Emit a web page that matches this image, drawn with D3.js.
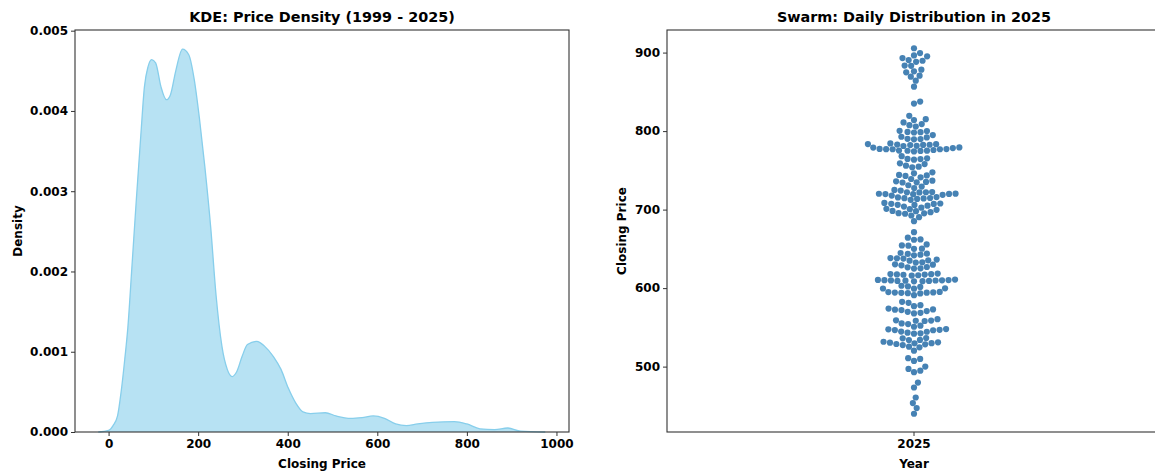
<!DOCTYPE html>
<html><head><meta charset="utf-8">
<script src="https://cdn.jsdelivr.net/npm/d3@7"></script>
<style>
html,body{margin:0;padding:0;background:#fff;}
text{font-family:"DejaVu Sans",sans-serif;font-weight:bold;fill:#000;}
</style></head>
<body>
<svg id="chart" width="1155" height="472"></svg>
<script>
// ---------- DATA ----------
const leftTitle = "KDE: Price Density (1999 - 2025)";
const rightTitle = "Swarm: Daily Distribution in 2025";
const kdeXTicks = [0, 200, 400, 600, 800, 1000];
const kdeYTicks = [0, 0.001, 0.002, 0.003, 0.004, 0.005];
const swarmYTicks = [500, 600, 700, 800, 900];
const swarmCategory = ["2025"];

// KDE curve (closing price, density)
const kdePrice = [-23, 0, 10, 20, 28, 36, 43, 52, 62, 72, 80, 88, 96, 105, 117, 129, 138, 150, 165, 179, 191, 203, 215, 228, 240, 253, 265, 276, 286, 298, 310, 331, 348, 368, 385, 401, 418, 434, 451, 484, 508, 541, 566, 591, 616, 641, 665, 690, 723, 772, 800, 829, 862, 891, 920, 975];
const kdeDensity = [0, 0.00002, 0.00008, 0.0002, 0.0005, 0.0009, 0.0013, 0.00205, 0.0029, 0.0037, 0.0043, 0.00455, 0.00464, 0.0046, 0.0043, 0.00414, 0.0042, 0.0045, 0.00477, 0.0047, 0.0044, 0.0039, 0.0033, 0.00255, 0.0017, 0.00107, 0.00078, 0.00069, 0.00075, 0.00094, 0.00109, 0.00113, 0.00107, 0.00094, 0.00078, 0.00055, 0.00036, 0.00025, 0.00023, 0.00024, 0.0002, 0.00017, 0.00018, 0.0002, 0.00017, 0.0001, 0.00008, 0.0001, 0.00012, 0.00013, 0.0001, 0.00004, 0.00003, 0.00005, 0.00001, 0];

// Daily closing prices in 2025
const prices2025 = [
 905.5, 899.4, 896.4, 895.2, 893.0, 890.5, 889.6, 888.3, 883.2, 883.5, 878.2, 876.1, 874.9, 870.6, 869.3, 864.2, 856.6, 837.6, 835.0,
 819.4, 814.0, 815.2, 811.0, 807.6, 805.8, 809.0, 798.2, 800.4, 799.0, 798.6, 800.0, 792.8, 789.8, 789.5, 791.9, 794.9, 790.2,
 784.3, 779.2, 778.4, 777.1, 782.6, 782.4, 781.3, 781.0, 782.2, 783.5, 783.3, 776.9, 779.0, 782.8,
 775.0, 774.1, 775.2, 777.3, 776.9, 774.8, 775.1, 775.9, 777.0,
 764.4, 765.3, 763.6, 764.6, 768.0,
 758.0, 754.7, 756.0, 753.8, 758.9,
 744.2, 746.2, 741.1, 742.9, 747.5, 743.5, 739.0,
 736.9, 734.8, 735.2, 736.0, 734.5,
 729.3, 727.5, 731.0,
 724.2, 720.0, 720.3, 719.8, 718.8, 717.9, 722.1, 722.3, 721.9, 722.0, 720.2, 719.7, 725.1,
 712.4, 714.5, 714.8, 713.6, 714.2, 715.5, 716.0,
 707.4, 706.1, 703.9, 701.0, 707.8, 705.0, 706.0, 707.2, 708.5, 702.5,
 698.0, 699.7, 694.7, 696.7, 695.4, 695.2, 698.3, 700.5,
 690.3, 685.3, 692.5,
 671.3, 662.0, 661.6, 664.2, 655.7, 650.3, 650.0, 654.4, 654.0,
 642.6, 641.8, 643.9, 644.7, 643.5,
 635.4, 632.5, 632.8, 637.6, 636.3, 638.3, 635.0, 638.0,
 624.9, 625.2, 626.9, 626.5, 629.0, 629.9, 630.3,
 617.2, 618.5, 617.7, 616.4, 617.9, 616.0, 617.4, 617.0,
 609.5, 610.3, 608.6, 608.9, 609.2, 609.9, 609.7, 609.1, 610.1, 609.8, 610.4, 610.9,
 603.0, 601.5, 602.2,
 599.5, 595.2, 594.0, 594.3, 595.0, 591.0, 593.2, 593.5, 594.2, 594.5, 599.3, 599.7,
 581.3, 582.5, 577.0, 578.3,
 572.8, 570.7, 568.5, 572.5, 567.8, 574.0, 569.8, 572.0,
 560.5, 558.4, 558.1, 555.0, 559.0, 554.2, 558.7, 552.1,
 547.8, 550.8,
 546.6, 544.4, 542.4, 546.3, 543.2, 546.9, 542.0, 544.7, 547.5,
 536.1, 534.0, 536.4, 533.8,
 530.9, 529.7, 528.8, 531.7, 528.4, 527.5, 530.5, 529.9, 525.4, 524.6,
 520.3,
 509.8, 507.2, 510.7,
 494.9, 492.9, 497.1, 500.0,
 479.7, 473.4, 460.7, 453.6, 447.2, 440.0
];

// ---------- LAYOUT ----------
const svg = d3.select("#chart");
const L = {left: 75, right: 569, top: 30, bottom: 432};
const R = {left: 667, right: 1161, top: 30, bottom: 432};
const skyblue = "#87ceeb";
const spineColor = "#333";

// ---------- LEFT: KDE ----------
const xK = d3.scaleLinear().domain([-75, 1028]).range([L.left, L.right]);
const yK = d3.scaleLinear().domain([0, d3.max(kdeDensity) * 1.05]).range([L.bottom, L.top]);
const kdeData = kdePrice.map((p, i) => [p, kdeDensity[i]]);

const gL = svg.append("g");
gL.append("path").datum(kdeData)
  .attr("d", d3.area().x(d => xK(d[0])).y0(yK(0)).y1(d => yK(d[1])).curve(d3.curveMonotoneX))
  .attr("fill", skyblue).attr("fill-opacity", 0.6);
gL.append("path").datum(kdeData)
  .attr("d", d3.line().x(d => xK(d[0])).y(d => yK(d[1])).curve(d3.curveMonotoneX))
  .attr("fill", "none").attr("stroke", skyblue).attr("stroke-width", 1.3);

gL.append("g").attr("transform", `translate(0,${L.bottom})`)
  .call(d3.axisBottom(xK).tickValues(kdeXTicks).tickFormat(d3.format("d")).tickSize(4).tickPadding(3));
gL.append("g").attr("transform", `translate(${L.left},0)`)
  .call(d3.axisLeft(yK).tickValues(kdeYTicks).tickFormat(d3.format(".3f")).tickSize(4).tickPadding(3));
gL.append("rect").attr("x", L.left).attr("y", L.top).attr("width", L.right - L.left).attr("height", L.bottom - L.top)
  .attr("fill", "none").attr("stroke", spineColor).attr("stroke-width", 1.1);

gL.append("text").attr("x", (L.left + L.right) / 2).attr("y", 22).attr("text-anchor", "middle")
  .style("font-size", "14.4px").text(leftTitle);
gL.append("text").attr("x", (L.left + L.right) / 2).attr("y", 468).attr("text-anchor", "middle")
  .style("font-size", "12px").text("Closing Price");
gL.append("text").attr("transform", `translate(22,${(L.top + L.bottom) / 2}) rotate(-90)`).attr("text-anchor", "middle")
  .style("font-size", "12px").text("Density");

// ---------- RIGHT: SWARM ----------
const yS0 = d3.extent(prices2025);
const padS = (yS0[1] - yS0[0]) * 0.05;
const yS = d3.scaleLinear().domain([yS0[0] - padS, yS0[1] + padS]).range([R.bottom, R.top]);
const xS = d3.scaleBand().domain(swarmCategory).range([R.left, R.right]).paddingInner(0).paddingOuter(0);
const center = xS(swarmCategory[0]) + xS.bandwidth() / 2;
const rad = 3.1;

// seaborn-like beeswarm layout
const pts = prices2025.map(v => ({v, y: yS(v), x: 0})).sort((a, b) => a.v - b.v);
const placed = [];
for (const p of pts) {
  const neighbors = [];
  for (let j = placed.length - 1; j >= 0; j--) {
    if (Math.abs(p.y - placed[j].y) < 2 * rad) neighbors.push(placed[j]); else break;
  }
  const cands = [0];
  let leftFirst = true;
  for (const q of neighbors) {
    const dy = p.y - q.y;
    const dx = Math.sqrt(Math.max(4 * rad * rad - dy * dy, 0)) * 1.05;
    const cl = q.x + dx, cr = q.x - dx;
    if (leftFirst) cands.push(cl, cr); else cands.push(cr, cl);
    leftFirst = !leftFirst;
  }
  const sorted = cands.map((x, i) => ({x, i})).sort((a, b) => (Math.abs(a.x) - Math.abs(b.x)) || (a.i - b.i));
  for (const c of sorted) {
    if (neighbors.every(q => (q.x - c.x) ** 2 + (q.y - p.y) ** 2 >= 4 * rad * rad - 1e-6)) { p.x = c.x; break; }
  }
  placed.push(p);
}

const gR = svg.append("g");
gR.selectAll("circle").data(pts).join("circle")
  .attr("cx", d => center + d.x).attr("cy", d => d.y).attr("r", rad)
  .attr("fill", "#4682b4");

gR.append("g").attr("transform", `translate(0,${R.bottom})`)
  .call(d3.axisBottom(xS).tickSize(4).tickPadding(3));
gR.append("g").attr("transform", `translate(${R.left},0)`)
  .call(d3.axisLeft(yS).tickValues(swarmYTicks).tickFormat(d3.format("d")).tickSize(4).tickPadding(3));
gR.append("rect").attr("x", R.left).attr("y", R.top).attr("width", R.right - R.left).attr("height", R.bottom - R.top)
  .attr("fill", "none").attr("stroke", spineColor).attr("stroke-width", 1.1);

gR.append("text").attr("x", center).attr("y", 22).attr("text-anchor", "middle")
  .style("font-size", "14.4px").text(rightTitle);
gR.append("text").attr("x", center).attr("y", 468).attr("text-anchor", "middle")
  .style("font-size", "12px").text("Year");
gR.append("text").attr("transform", `translate(626,${(R.top + R.bottom) / 2}) rotate(-90)`).attr("text-anchor", "middle")
  .style("font-size", "12px").text("Closing Price");

// axis styling
svg.selectAll(".domain").remove();
svg.selectAll(".tick line").attr("stroke", spineColor).attr("stroke-width", 1);
svg.selectAll(".tick text").style("font-size", "12px").style("font-family", "DejaVu Sans").style("font-weight", "bold").attr("fill", "#000");
</script>
</body></html>
